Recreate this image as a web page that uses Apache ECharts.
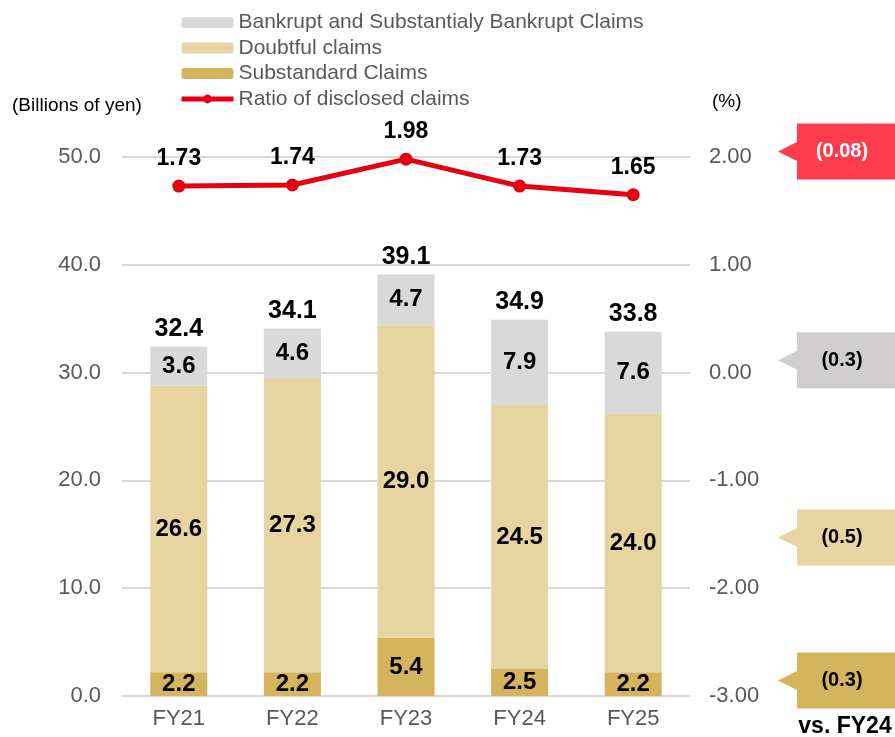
<!DOCTYPE html>
<html><head><meta charset="utf-8">
<script src="https://cdn.jsdelivr.net/npm/echarts@6/dist/echarts.min.js"></script>
<style>html,body{margin:0;padding:0;background:#fff}#c{width:895px;height:737px}</style>
</head><body><div id="c"></div>
<script>
const categories = ['FY21','FY22','FY23','FY24','FY25'];
const substandard = [2.2, 2.2, 5.4, 2.5, 2.2];
const doubtful = [26.6, 27.3, 29.0, 24.5, 24.0];
const bankrupt = [3.6, 4.6, 4.7, 7.9, 7.6];
const totals = [32.4, 34.1, 39.1, 34.9, 33.8];
const ratio = [1.73, 1.74, 1.98, 1.73, 1.65];
const leftTicks = [0, 10, 20, 30, 40, 50];
const rightTicks = [-3, -2, -1, 0, 1, 2];
const changes = [
  {text: '(0.08)', axis: 1, value: 2.05, color: '#ff3c4e', textColor: '#ffffff'},
  {text: '(0.3)', axis: 0, value: 31.15, color: '#d0cece', textColor: '#000000'},
  {text: '(0.5)', axis: 0, value: 14.7, color: '#e6d5a0', textColor: '#000000'},
  {text: '(0.3)', axis: 0, value: 1.44, color: '#d4b45c', textColor: '#000000'}
];
const FONT = '"Liberation Sans", Arial, sans-serif';
const chart = echarts.init(document.getElementById('c'));
const segLabel = {show: true, position: 'inside', color: '#000', fontWeight: 'bold', fontSize: 24, fontFamily: FONT,
  formatter: p => p.value.toFixed(1)};
const option = {
  animation: false,
  textStyle: {fontFamily: FONT},
  grid: {left: 122, right: 205, top: 157, bottom: 41},
  legend: {
    orient: 'vertical', left: 174, top: 7, itemWidth: 52, itemHeight: 11, itemGap: 4.5,
    textStyle: {fontSize: 21, color: '#595959', fontFamily: FONT},
    data: ['Bankrupt and Substantialy Bankrupt Claims', 'Doubtful claims', 'Substandard Claims',
      {name: 'Ratio of disclosed claims', lineStyle: {width: 5, color: '#e60012'}}]
  },
  xAxis: {
    type: 'category', data: categories,
    axisLine: {lineStyle: {color: '#d9d9d9', width: 2}}, axisTick: {show: false},
    axisLabel: {fontSize: 22, color: '#595959', margin: 12, fontFamily: FONT}
  },
  yAxis: [
    {type: 'value', min: leftTicks[0], max: leftTicks[leftTicks.length-1], interval: 10,
     axisLabel: {fontSize: 22, color: '#595959', margin: 21, formatter: v => v.toFixed(1), fontFamily: FONT},
     splitLine: {lineStyle: {color: '#d9d9d9', width: 2}}, axisLine: {show: false}, axisTick: {show: false}},
    {type: 'value', min: rightTicks[0], max: rightTicks[rightTicks.length-1], interval: 1,
     axisLabel: {fontSize: 22, color: '#595959', margin: 19, formatter: v => v.toFixed(2), fontFamily: FONT},
     splitLine: {show: false}, axisLine: {show: false}, axisTick: {show: false}}
  ],
  series: [
    {name: 'Substandard Claims', type: 'bar', stack: 'a', barWidth: 57, data: substandard,
     itemStyle: {color: '#d4b45c'}, label: segLabel},
    {name: 'Doubtful claims', type: 'bar', stack: 'a', data: doubtful,
     itemStyle: {color: '#e6d5a0'}, label: segLabel},
    {name: 'Bankrupt and Substantialy Bankrupt Claims', type: 'bar', stack: 'a', data: bankrupt,
     itemStyle: {color: '#d9d9d9'}, label: segLabel},
    {name: 'total', type: 'scatter', data: totals, symbolSize: 0, silent: true,
     itemStyle: {opacity: 1},
     label: {show: true, position: 'top', distance: 5, color: '#000', opacity: 1, fontWeight: 'bold', fontSize: 25, fontFamily: FONT,
       formatter: p => p.value.toFixed(1)}},
    {name: 'Ratio of disclosed claims', type: 'line', yAxisIndex: 1, data: ratio,
     lineStyle: {color: '#e60012', width: 5}, itemStyle: {color: '#e60012'},
     symbol: 'circle', symbolSize: 13,
     label: {show: true, position: 'top', distance: 9, color: '#000', fontWeight: 'bold', fontSize: 23, fontFamily: FONT,
       formatter: p => p.value.toFixed(2)}}
  ]
};
chart.setOption(option);

function drawCallouts() {
  const g = [];
  g.push({type: 'text', left: 12, top: 96, style: {text: '(Billions of yen)', fontSize: 19, fill: '#000', fontFamily: FONT}});
  g.push({type: 'text', left: 712, top: 92, style: {text: '(%)', fontSize: 19, fill: '#000', fontFamily: FONT}});
  changes.forEach(c => {
    const cy = chart.convertToPixel({yAxisIndex: c.axis}, c.value);
    g.push({type: 'polygon', shape: {points: [[778, cy], [798, cy - 10], [798, cy + 10]]}, style: {fill: c.color}});
    g.push({type: 'rect', shape: {x: 797, y: cy - 28, width: 98, height: 56}, style: {fill: c.color}});
    g.push({type: 'text', x: 842, y: cy, style: {text: c.text, fill: c.textColor, fontSize: 20, fontWeight: 'bold', fontFamily: FONT, align: 'center', verticalAlign: 'middle'}});
  });
  g.push({type: 'text', x: 845, y: 727, style: {text: 'vs. FY24', fill: '#000', fontSize: 23, fontWeight: 'bold', fontFamily: FONT, align: 'center', verticalAlign: 'middle'}});
  chart.setOption({graphic: g});
}
drawCallouts();
</script>
</body></html>
